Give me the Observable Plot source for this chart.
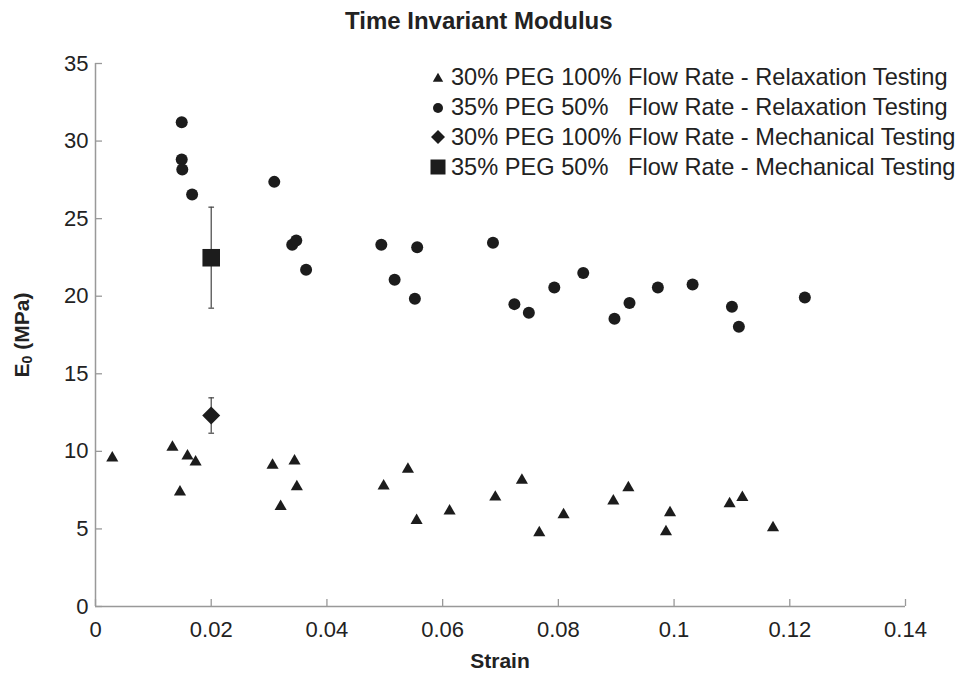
<!DOCTYPE html>
<html>
<head>
<meta charset="utf-8">
<script src="https://cdn.jsdelivr.net/npm/d3@7"></script>
<script src="https://cdn.jsdelivr.net/npm/@observablehq/plot@0.6"></script>
<style>
  html, body { margin: 0; padding: 0; background: #fff; }
  #wrap { position: relative; width: 968px; height: 675px; font-family: "Liberation Sans", Arial, sans-serif; color: #222; }
  #title { position: absolute; left: 0; top: 0; width: 968px; height: 40px; }
  #title span { position: absolute; left: 345px; top: 7px; font-weight: bold; font-size: 24px; white-space: nowrap; }
  #chart { position: absolute; left: 0; top: 40px; }
  .legend { position: absolute; left: 428px; top: 63px; font-size: 23.6px; white-space: pre; }
  .legend .row { display: flex; align-items: center; height: 29.8px; }
  .legend svg { width: 20px; height: 20px; margin-right: 3px; flex: none; }
  .xlabel { position: absolute; left: 450px; width: 100px; text-align: center; top: 649px; font-weight: bold; font-size: 21px; }
  .ylabel { position: absolute; left: 22px; top: 335px; transform: translate(-50%, -50%) rotate(-90deg); font-weight: bold; font-size: 21px; white-space: nowrap; }
  .ylabel sub { font-size: 14px; vertical-align: -3px; }
</style>
</head>
<body>
<div id="wrap">
  <div id="title"><span>Time Invariant Modulus</span></div>
  <div id="chart"></div>
  <div class="legend" id="legend"></div>
  <div class="xlabel">Strain</div>
  <div class="ylabel">E<sub>0</sub> (MPa)</div>
</div>
<script>
// ---- data ----
const seriesNames = [
  "30% PEG 100% Flow Rate - Relaxation Testing",
  "35% PEG 50%   Flow Rate - Relaxation Testing",
  "30% PEG 100% Flow Rate - Mechanical Testing",
  "35% PEG 50%   Flow Rate - Mechanical Testing"
];

// 30% PEG 100% Flow Rate - Relaxation Testing (triangles)
const triStrain = [0.0029, 0.0133, 0.0159, 0.0173, 0.0146, 0.0306, 0.0344, 0.0348, 0.0320, 0.0498, 0.0540, 0.0555,
                   0.0612, 0.0691, 0.0737, 0.0767, 0.0809, 0.0895, 0.0921, 0.0993, 0.0986, 0.1096, 0.1118, 0.1171];
const triModulus = [9.57, 10.26, 9.70, 9.31, 7.38, 9.10, 9.38, 7.72, 6.45, 7.76, 8.84, 5.55,
                    6.15, 7.05, 8.13, 4.76, 5.92, 6.80, 7.66, 6.05, 4.82, 6.63, 7.03, 5.08];

// 35% PEG 50% Flow Rate - Relaxation Testing (circles)
const circStrain = [0.0149, 0.0149, 0.0150, 0.0167, 0.0309, 0.0340, 0.0347, 0.0364, 0.0494, 0.0517, 0.0552, 0.0556,
                    0.0687, 0.0724, 0.0749, 0.0793, 0.0843, 0.0897, 0.0923, 0.0972, 0.1032, 0.1100, 0.1112, 0.1226];
const circModulus = [31.22, 28.81, 28.17, 26.56, 27.37, 23.31, 23.59, 21.70, 23.31, 21.06, 19.83, 23.16,
                     23.44, 19.49, 18.93, 20.56, 21.49, 18.54, 19.57, 20.56, 20.76, 19.32, 18.03, 19.92];

// Mechanical testing (mean with error bars)
const mechStrain = [0.02, 0.02];
const mechModulus = [12.31, 22.48];
const mechLow = [11.17, 19.23];
const mechHigh = [13.45, 25.74];
const mechSymbol = ["diamond2", "square"];
const mechR = [8.1, 9.9];

const xTicks = [0, 0.02, 0.04, 0.06, 0.08, 0.1, 0.12, 0.14];
const yTicks = [0, 5, 10, 15, 20, 25, 30, 35];

// ---- build tables ----
const triangles = triStrain.map((x, i) => ({x, y: triModulus[i]}));
const circles = circStrain.map((x, i) => ({x, y: circModulus[i]}));
const mech = mechStrain.map((x, i) => ({x, y: mechModulus[i], lo: mechLow[i], hi: mechHigh[i], symbol: mechSymbol[i], r: mechR[i]}));

const W = 968, H = 635;
const mL = 95, mR = 63, mT = 23, mB = 69;
const innerW = W - mL - mR, innerH = H - mT - mB;
const ink = "#1c1c1c";
const axisColor = "#999";

const capSymbol = {
  draw(context, size) {
    const w = Math.sqrt(size);
    context.moveTo(-w / 2, 0);
    context.lineTo(w / 2, 0);
  }
};

const chart = Plot.plot({
  width: W,
  height: H,
  marginLeft: mL,
  marginRight: mR,
  marginTop: mT,
  marginBottom: mB,
  style: {fontFamily: "'Liberation Sans', Arial, sans-serif", fontSize: "22px", color: "#222", background: "white", overflow: "visible"},
  x: {domain: [0, 0.14]},
  y: {domain: [0, 35]},
  marks: [
    Plot.ruleY([0], {stroke: axisColor, strokeWidth: 1.5}),
    Plot.ruleX([0], {stroke: axisColor, strokeWidth: 1.5}),
    Plot.tickX(xTicks, {x: d => d, stroke: axisColor, strokeWidth: 1.3, insetTop: innerH - 7}),
    Plot.tickY(yTicks, {y: d => d, stroke: axisColor, strokeWidth: 1.3, insetRight: innerW - 7}),
    Plot.axisX(xTicks, {tickSize: 0, tickPadding: 15, tickFormat: d => String(d), fontSize: 22, fill: "#222", label: null}),
    Plot.axisY(yTicks, {tickSize: 0, tickPadding: 7, tickFormat: d => String(d), fontSize: 22, fill: "#222", label: null}),
    // error bars
    Plot.ruleX(mech, {x: "x", y1: "lo", y2: "hi", stroke: "#444", strokeWidth: 1.2}),
    Plot.dot(mech, {x: "x", y: "lo", symbol: capSymbol, r: 3.2, stroke: "#444", strokeWidth: 1.2, fill: "none"}),
    Plot.dot(mech, {x: "x", y: "hi", symbol: capSymbol, r: 3.2, stroke: "#444", strokeWidth: 1.2, fill: "none"}),
    // relaxation testing
    Plot.dot(triangles, {x: "x", y: "y", symbol: "triangle", r: 4.5, fill: ink, stroke: "none"}),
    Plot.dot(circles, {x: "x", y: "y", symbol: "circle", r: 6, fill: ink, stroke: "none"}),
    // mechanical testing means
    Plot.dot(mech, {x: "x", y: "y", symbol: d => d.symbol, r: d => d.r, fill: ink, stroke: "none"})
  ],
  symbol: {type: "identity"},
  r: {type: "identity"}
});
document.getElementById("chart").appendChild(chart);

// ---- legend ----
const legendSymbols = [
  '<svg viewBox="-10 -10 20 20"><path d="M0,-5.2L5.2,3.8L-5.2,3.8Z" fill="' + ink + '"/></svg>',
  '<svg viewBox="-10 -10 20 20"><circle r="5" fill="' + ink + '"/></svg>',
  '<svg viewBox="-10 -10 20 20"><path d="M0,-7L7,0L0,7L-7,0Z" fill="' + ink + '"/></svg>',
  '<svg viewBox="-10 -10 20 20"><rect x="-7.5" y="-7.5" width="15" height="15" fill="' + ink + '"/></svg>'
];
const legend = document.getElementById("legend");
seriesNames.forEach((name, i) => {
  const row = document.createElement("div");
  row.className = "row";
  row.innerHTML = legendSymbols[i];
  const t = document.createElement("span");
  t.textContent = name;
  row.appendChild(t);
  legend.appendChild(row);
});
</script>
</body>
</html>
